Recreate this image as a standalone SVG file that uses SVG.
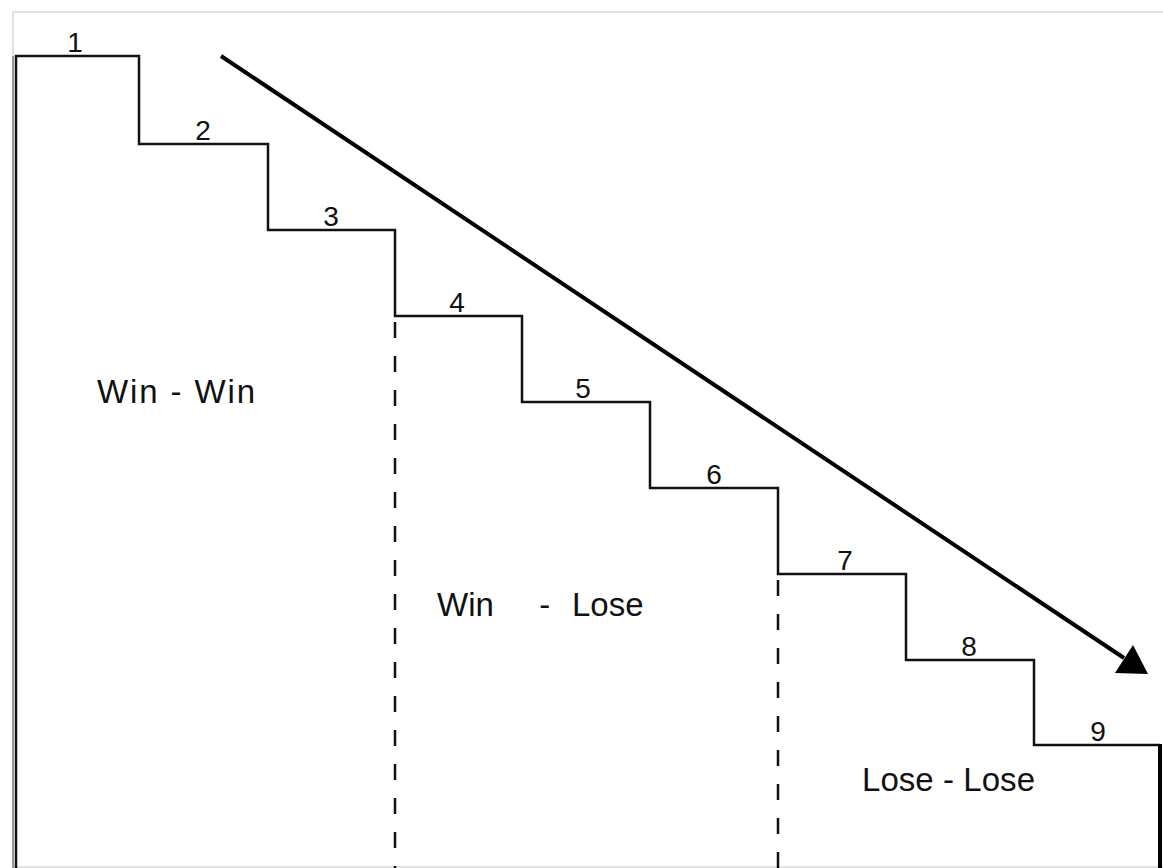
<svg xmlns="http://www.w3.org/2000/svg" width="1163" height="868" viewBox="0 0 1163 868">
<defs>
<style>
.line{fill:none;stroke:#111;stroke-width:2.5;stroke-linejoin:miter}
.dash{fill:none;stroke:#111;stroke-width:2.5;stroke-dasharray:16 18}
.num{font-family:"Liberation Sans",Arial,sans-serif;font-size:28px;fill:#111;text-anchor:middle}
.lbl{font-family:"Liberation Sans",Arial,sans-serif;font-size:33px;fill:#111}
</style>
</defs>
<rect width="1163" height="868" fill="#fff"/>
<rect x="13" y="12" width="1152" height="855" fill="none" stroke="#e2e2e2" stroke-width="2"/>
<g id="stairs">
<line x1="13" y1="56" x2="13" y2="868" stroke="#999" stroke-width="2"/>
<path class="line" d="M16,868 V56 H139 V144 H268 V230 H395 V316 H522 V402 H650 V488 H778 V574 H906 V660 H1034 V745 H1160"/>
<line x1="1160" y1="744" x2="1160" y2="868" stroke="#000" stroke-width="4"/>
</g>
<g id="dividers">
<line class="dash" x1="395" y1="322" x2="395" y2="868"/>
<line class="dash" x1="778" y1="580" x2="778" y2="868"/>
</g>
<g id="step-labels">
<text class="num" x="75" y="52">1</text>
<text class="num" x="203" y="140">2</text>
<text class="num" x="331" y="226">3</text>
<text class="num" x="457" y="312">4</text>
<text class="num" x="583" y="398">5</text>
<text class="num" x="714" y="484">6</text>
<text class="num" x="845" y="570">7</text>
<text class="num" x="969" y="656">8</text>
<text class="num" x="1098" y="741">9</text>
</g>
<g id="zones">
<text id="win-win" class="lbl" x="97" y="403" textLength="158" lengthAdjust="spacing">Win - Win</text>
<text id="win-lose" class="lbl" y="616"><tspan x="437">Win</tspan><tspan x="530"> - </tspan><tspan x="572">Lose</tspan></text>
<text id="lose-lose" class="lbl" x="862" y="791" textLength="173" lengthAdjust="spacing">Lose - Lose</text>
</g>
<g id="connectors">
<line x1="221" y1="56" x2="1124" y2="658" stroke="#000" stroke-width="4"/>
<polygon points="1148,674 1115,673 1133,645" fill="#000"/>
</g>
</svg>
